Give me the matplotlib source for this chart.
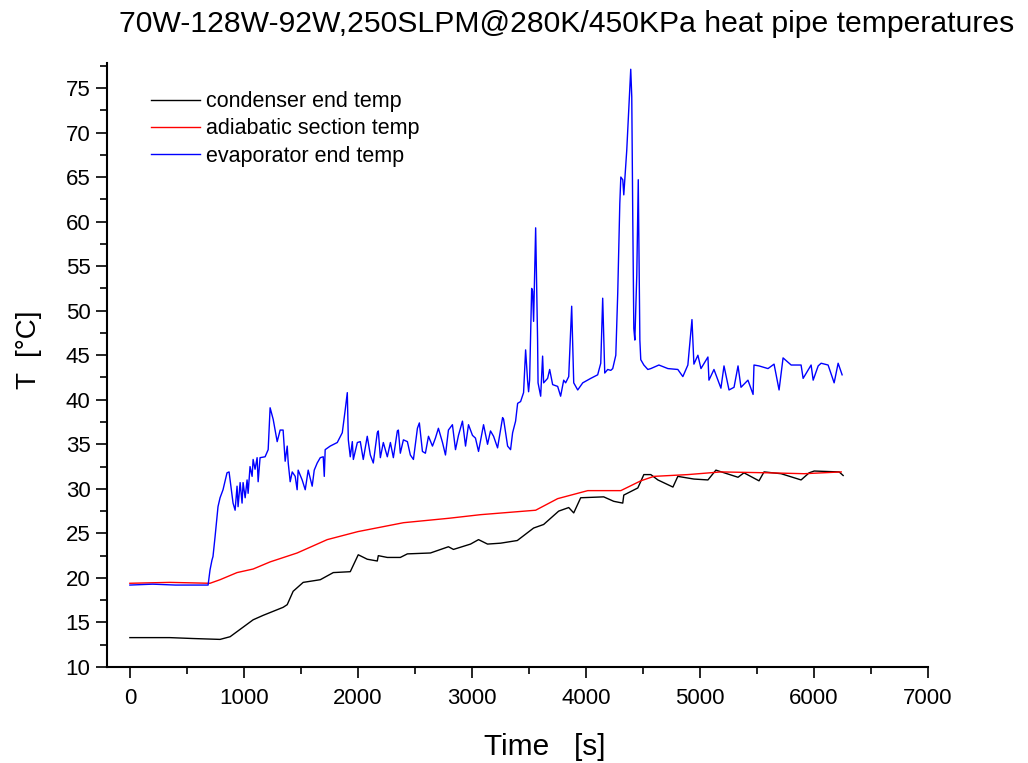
import matplotlib.pyplot as plt
from matplotlib.ticker import MultipleLocator

plt.rcParams['font.family'] = ['Liberation Sans', 'DejaVu Sans']

# condenser end temp (black)
t_cond = [0, 170, 350, 550, 791, 879, 1081, 1169, 1344, 1380, 1432, 1520, 1670, 1784,
          1933, 2003, 2082, 2170, 2179, 2258, 2372, 2434, 2636, 2794, 2838, 2988, 3058,
          3137, 3251, 3398, 3541, 3629, 3761, 3849, 3893, 3954, 4156, 4244, 4323, 4332,
          4455, 4508, 4569, 4631, 4763, 4806, 4947, 5070, 5140, 5334, 5386, 5518, 5562,
          5712, 5887, 5958, 6002, 6221, 6256]
T_cond = [13.3, 13.3, 13.3, 13.2, 13.1, 13.4, 15.3, 15.8, 16.7, 17.0, 18.5, 19.5, 19.8, 20.6,
          20.7, 22.6, 22.1, 21.9, 22.5, 22.3, 22.3, 22.7, 22.8, 23.5, 23.2, 23.8, 24.3,
          23.8, 23.9, 24.2, 25.6, 26.0, 27.5, 27.9, 27.3, 29.0, 29.1, 28.6, 28.4, 29.3,
          30.1, 31.6, 31.6, 31.0, 30.2, 31.4, 31.1, 31.0, 32.1, 31.3, 31.8, 30.9, 31.9,
          31.7, 31.0, 31.8, 32.0, 31.9, 31.5]

# adiabatic section temp (red)
t_adia = [0, 350, 703, 791, 940, 1081, 1230, 1467, 1731, 2000, 2400, 2800, 3075, 3559,
          3752, 4016, 4306, 4481, 4596, 4894, 5184, 5597, 5914, 6239]
T_adia = [19.4, 19.5, 19.4, 19.8, 20.6, 21.0, 21.8, 22.8, 24.3, 25.2, 26.2, 26.7, 27.1, 27.6,
          28.9, 29.8, 29.8, 30.9, 31.4, 31.6, 31.9, 31.8, 31.7, 31.9]

# evaporator end temp (blue)
t_evap = [0, 200, 400, 600, 686, 703, 720, 729, 747, 773, 791, 817, 852, 870, 896, 905,
          923, 940, 949, 967, 984, 993, 1011, 1028, 1037, 1054, 1072, 1081, 1098, 1116,
          1125, 1142, 1186, 1213, 1230, 1257, 1274, 1292, 1318, 1344, 1362, 1380, 1389,
          1406, 1424, 1450, 1467, 1476, 1511, 1538, 1564, 1599, 1617, 1643, 1670, 1696,
          1705, 1713, 1757, 1819, 1863, 1889, 1907, 1916, 1933, 1951, 1960, 1995, 2021,
          2047, 2082, 2109, 2135, 2170, 2179, 2197, 2223, 2258, 2285, 2311, 2346, 2355,
          2372, 2399, 2434, 2460, 2487, 2522, 2539, 2566, 2592, 2619, 2654, 2680, 2706,
          2742, 2768, 2794, 2829, 2856, 2882, 2917, 2944, 2970, 3005, 3031, 3058, 3102,
          3137, 3163, 3190, 3225, 3269, 3278, 3313, 3339, 3357, 3383, 3401, 3427, 3453,
          3471, 3488, 3497, 3506, 3524, 3532, 3541, 3559, 3576, 3580, 3603, 3620, 3629,
          3664, 3682, 3708, 3752, 3778, 3805, 3822, 3849, 3875, 3893, 3928, 3972, 4042,
          4103, 4130, 4147, 4165, 4191, 4218, 4235, 4262, 4279, 4297, 4306, 4323, 4332,
          4358, 4393, 4402, 4411, 4420, 4429, 4446, 4459, 4473, 4481, 4508, 4543, 4569,
          4640, 4719, 4806, 4850, 4894, 4930, 4947, 4982, 5009, 5070, 5079, 5123, 5184,
          5211, 5255, 5299, 5334, 5360, 5421, 5466, 5474, 5518, 5597, 5650, 5694, 5729,
          5800, 5887, 5905, 5975, 5993, 6037, 6063, 6124, 6177, 6212, 6247]
T_evap = [19.2, 19.3, 19.2, 19.2, 19.2, 20.9, 22.0, 22.4, 24.6, 28.0, 29.0, 29.9, 31.8, 31.9, 29.3, 28.4,
          27.6, 30.3, 28.0, 30.7, 28.4, 30.7, 29.0, 31.0, 29.5, 32.5, 31.4, 33.3, 32.2, 33.5,
          30.8, 33.5, 33.6, 34.4, 39.1, 37.8, 36.6, 35.3, 36.6, 36.6, 33.1, 34.8, 32.9,
          30.8, 31.9, 31.4, 29.9, 32.1, 31.0, 29.9, 32.1, 30.3, 32.1, 32.9, 33.5, 33.6,
          31.4, 34.4, 34.8, 35.2, 36.3, 38.9, 40.8, 35.5, 33.6, 35.3, 33.3, 35.2, 35.3,
          33.3, 35.9, 33.8, 32.9, 36.3, 36.5, 33.5, 35.2, 33.6, 35.2, 33.5, 36.5, 36.6,
          34.0, 35.5, 35.3, 33.8, 33.3, 36.8, 37.4, 34.2, 34.0, 35.9, 34.8, 35.7, 36.8,
          35.2, 33.8, 36.6, 37.2, 34.4, 36.0, 37.6, 34.8, 37.2, 36.0, 35.7, 34.2, 37.2,
          35.0, 36.5, 35.9, 34.6, 38.0, 37.8, 34.8, 34.4, 36.3, 37.6, 39.6, 39.8, 40.8,
          45.6, 42.2, 40.9, 42.2, 52.5, 52.2, 48.8, 59.3, 46.7, 41.9, 40.4, 44.9, 41.9,
          42.4, 43.4, 41.7, 41.5, 40.4, 42.2, 41.9, 42.6, 50.5, 41.9, 41.1, 41.9, 42.4,
          42.8, 44.1, 51.4, 43.0, 43.4, 43.3, 43.5, 45.0, 52.0, 62.0, 65.0, 64.7, 63.0,
          68.0, 77.1, 74.0, 60.0, 48.0, 46.7, 54.0, 64.7, 46.7, 44.5, 43.9, 43.4, 43.5,
          43.9, 43.5, 43.4, 42.6, 43.9, 49.0, 44.0, 45.0, 43.5, 44.8, 42.2, 43.4, 41.3,
          43.8, 41.1, 41.4, 43.8, 41.4, 42.2, 40.6, 43.9, 43.8, 43.5, 44.0, 41.1, 44.7,
          43.9, 43.9, 42.4, 43.9, 42.2, 43.8, 44.1, 43.9, 41.9, 44.1, 42.8]

fig = plt.figure(figsize=(10.28, 7.63), dpi=100)
ax = fig.add_axes([0.1036, 0.1258, 0.7991, 0.7916])

ax.plot(t_cond, T_cond, color='black', lw=1.0, label='condenser end temp')
ax.plot(t_adia, T_adia, color='#ff0000', lw=1.0, label='adiabatic section temp')
ax.plot(t_evap, T_evap, color='#0000ff', lw=1.0, label='evaporator end temp')

ax.set_xlim(-205, 7000)
ax.set_ylim(10, 77.8)
ax.xaxis.set_major_locator(MultipleLocator(1000))
ax.xaxis.set_minor_locator(MultipleLocator(500))
ax.yaxis.set_major_locator(MultipleLocator(5))
ax.yaxis.set_minor_locator(MultipleLocator(2.5))
ax.tick_params(which='major', direction='out', length=8, width=1.2, labelsize=16)
ax.tick_params(axis='x', which='major', pad=7)
ax.tick_params(which='minor', direction='out', length=5, width=1.2)
for s in ['top', 'right']:
    ax.spines[s].set_visible(False)
for s in ['left', 'bottom']:
    ax.spines[s].set_linewidth(1.5)

ax.set_xlabel('Time   [s]', fontsize=21.5)
ax.xaxis.set_label_coords(0.534, -0.11)
ax.set_ylabel('T  [°C]', fontsize=20)
ax.yaxis.set_label_coords(-0.078, 0.525)

fig.text(0.551, 0.969, '70W-128W-92W,250SLPM@280K/450KPa heat pipe temperatures',
         ha='center', va='center', fontsize=21.7)

ax.legend(loc='upper left', bbox_to_anchor=(0.03, 0.985), frameon=False, fontsize=15.5,
          handlelength=2.3, handletextpad=0.3, labelspacing=0.28)

plt.savefig('out.png')
